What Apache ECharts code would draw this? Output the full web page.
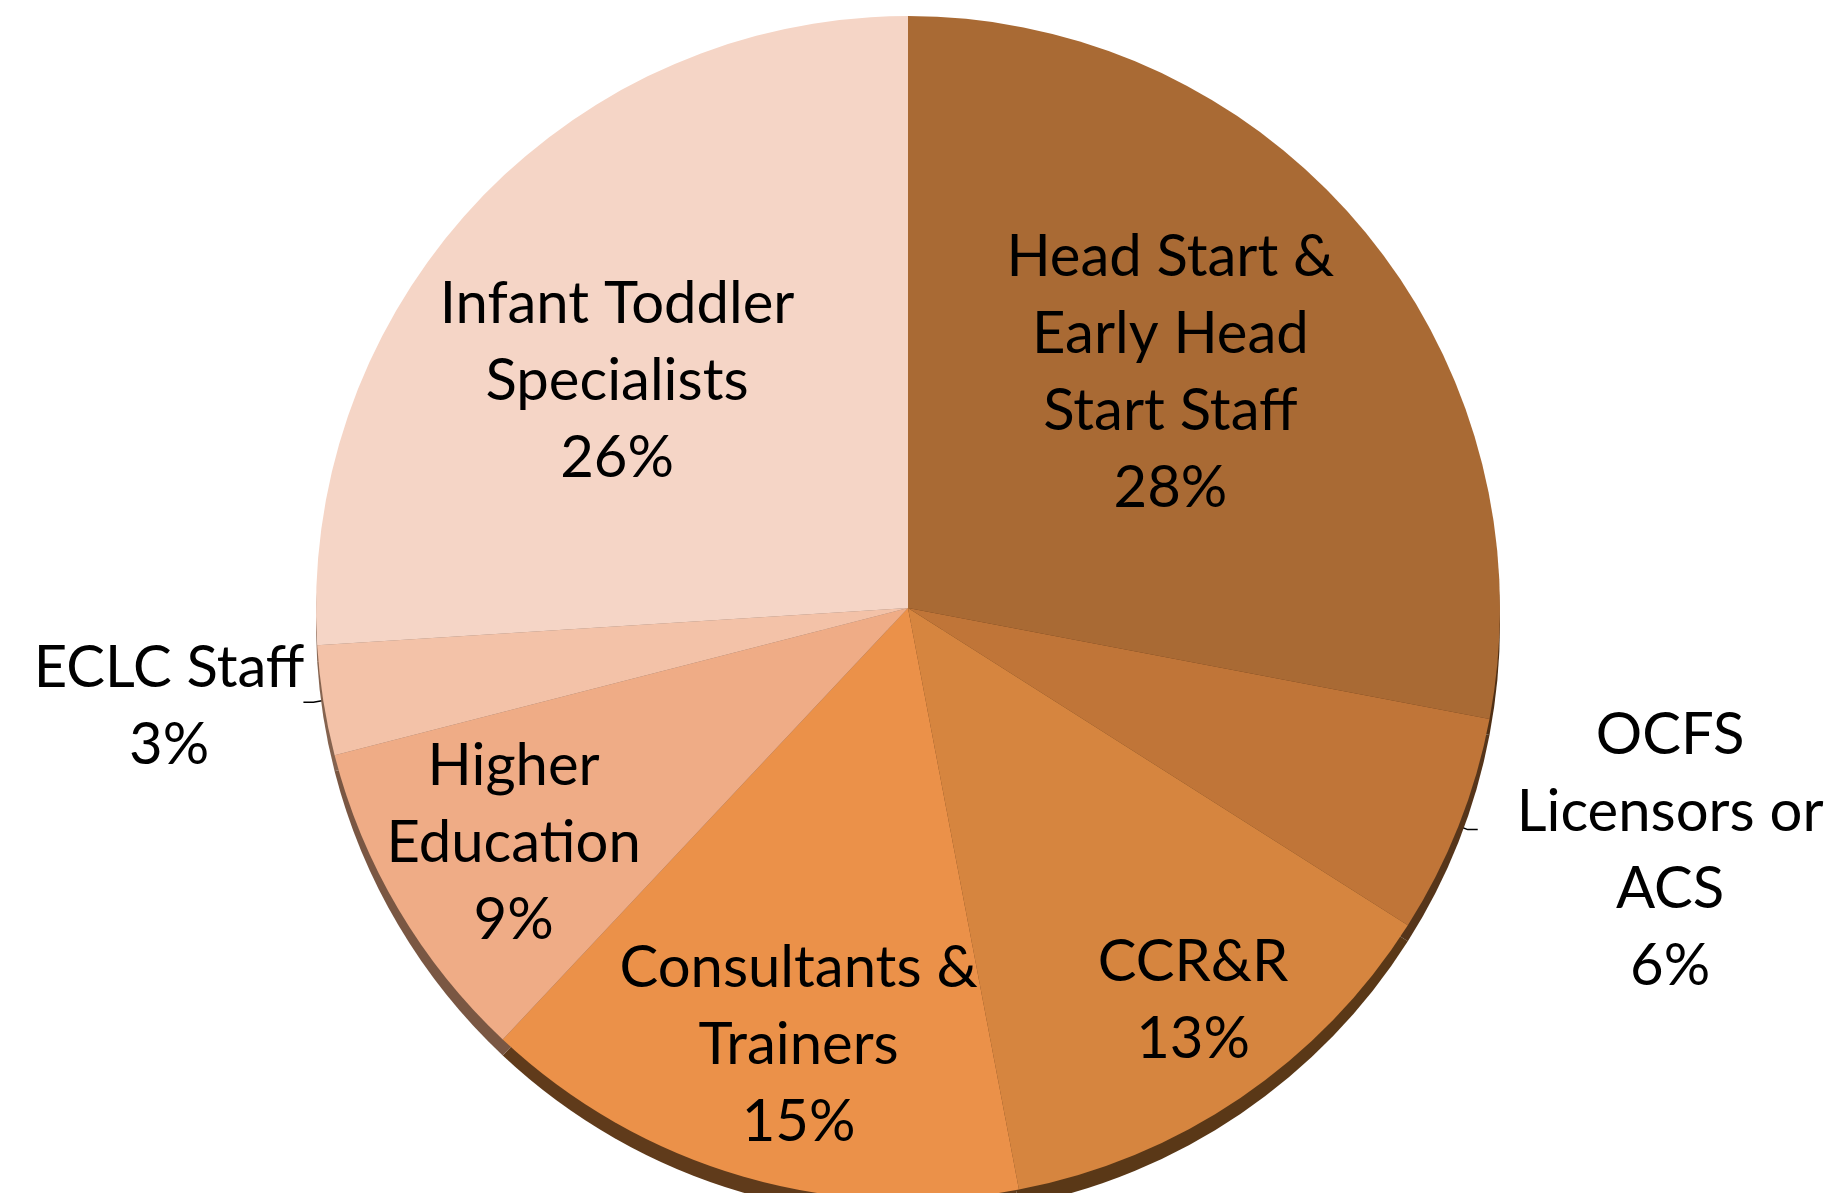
<!DOCTYPE html>
<html>
<head>
<meta charset="utf-8">
<script src="https://cdn.jsdelivr.net/npm/echarts@6/dist/echarts.min.js"></script>
<style>
html,body{margin:0;padding:0;background:#fff;}
#chart{width:1832px;height:1193px;}
</style>
</head>
<body>
<div id="chart"></div>
<script>
// ---- data ----
const categories = [
  'Head Start &\nEarly Head\nStart Staff',
  'OCFS\nLicensors or\nACS',
  'CCR&R',
  'Consultants &\nTrainers',
  'Higher\nEducation',
  'ECLC Staff',
  'Infant Toddler\nSpecialists'
];
const values = [28, 6, 13, 15, 9, 3, 26];

// ---- styling ----
const colors = ['#A96A34', '#C07538', '#D6853F', '#EB9149', '#EFAC86', '#F3C2A8', '#F5D5C6'];
const edgeColors = ['#4F2F14', '#56351A', '#5A3817', '#603B1B', '#7A5743', '#85634F', '#8A6A58'];
const outsideIdx = [1, 5];
// label nudges relative to library placement
const labelNudge = {
  0: [32, -45],
  1: [34, 21],
  2: [117, 145],
  3: [-26, 150],
  4: [-137, 83],
  5: [6, 5],
  6: [-73, -22]
};

const FONT = 'Lato, "Noto Sans", sans-serif';
const CX = 908, CY = 608, R = 592, EDGE = 16;
const chart = echarts.init(document.getElementById('chart'), null, {renderer: 'canvas'});

const mainData = categories.map((n, i) => {
  const d = {name: n, value: values[i], itemStyle: {color: colors[i]}};
  if (outsideIdx.includes(i)) {
    d.label = {position: 'outside'};
    d.labelLine = {show: true, length: 10, length2: 10, lineStyle: {color: '#000', width: 1.5}};
  }
  return d;
});

chart.setOption({
  backgroundColor: '#fff',
  animation: false,
  series: [
    {
      type: 'pie',
      silent: true,
      center: [CX, CY + EDGE],
      radius: R,
      startAngle: 90,
      clockwise: true,
      label: {show: false},
      labelLine: {show: false},
      data: values.map((v, i) => ({name: 'edge' + i, value: v, itemStyle: {color: edgeColors[i]}}))
    },
    {
      type: 'pie',
      center: [CX, CY],
      radius: R,
      startAngle: 90,
      clockwise: true,
      percentPrecision: 0,
      avoidLabelOverlap: false,
      itemStyle: {borderWidth: 0},
      label: {
        show: true,
        position: 'inside',
        formatter: p => (p.name + '\n' + p.percent + '%').split('\n').map(s => '{c|' + s + '}').join('\n'),
        rich: {
          c: {fontFamily: FONT, fontSize: 58, lineHeight: 77, color: '#000', align: 'center'}
        }
      },
      labelLine: {show: false},
      labelLayout: function (params) {
        const n = labelNudge[params.dataIndex] || [0, 0];
        return {dx: n[0], dy: n[1]};
      },
      data: mainData
    }
  ]
});
</script>
</body>
</html>
